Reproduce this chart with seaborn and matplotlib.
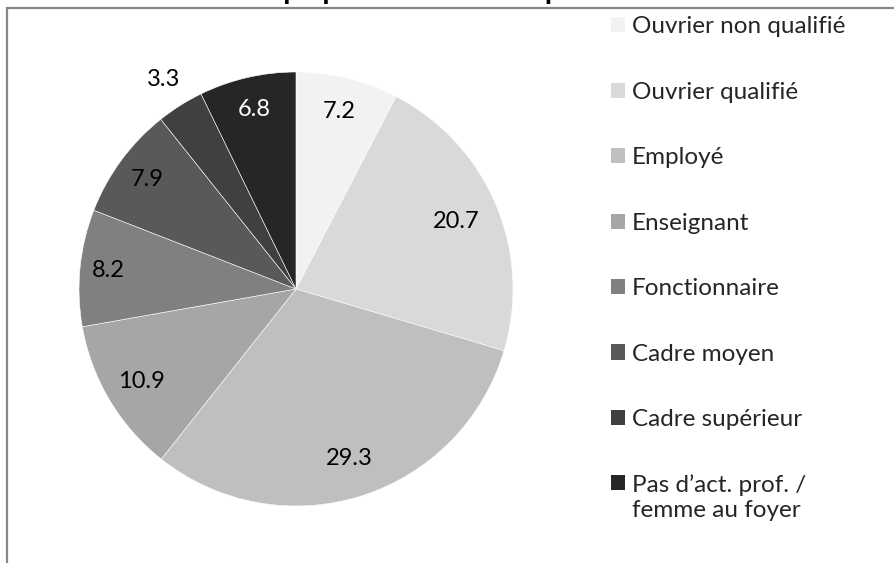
import matplotlib
matplotlib.use("Agg")
import matplotlib.pyplot as plt
from matplotlib.patches import Patch, Rectangle
import numpy as np
import seaborn as sns

sns.set_theme(style="white")
plt.rcParams["font.family"] = ["Lato", "DejaVu Sans"]

# données (en %)
categories = ["Ouvrier non qualifié", "Ouvrier qualifié", "Employé", "Enseignant",
              "Fonctionnaire", "Cadre moyen", "Cadre supérieur",
              "Pas d\u2019act. prof. /\nfemme au foyer"]
valeurs = [7.2, 20.7, 29.3, 10.9, 8.2, 7.9, 3.3, 6.8]
couleurs = ["#f2f2f2", "#d9d9d9", "#bfbfbf", "#a6a6a6",
            "#808080", "#595959", "#404040", "#262626"]
etiquettes = ["7.2", "20.7", "29.3", "10.9", "8.2", "7.9", "3.3", "6.8"]
titre = "Groupe professionnel du père"

W, H = 895, 563
fig = plt.figure(figsize=(W / 100, H / 100), dpi=100)

# cadre de la zone du graphique (coupé à droite et en bas)
fig.patches.append(Rectangle((7 / W, -0.05), 1.1, 1 - 8 / H + 0.05,
                             transform=fig.transFigure, fill=False,
                             edgecolor="#878787", linewidth=1.6))

# titre coupé en haut : seuls les jambages dépassent
fig.text(218 / W, 1 + 1 / H, titre, fontsize=21, fontweight="bold",
         ha="left", va="baseline", color="black")

cx, cy, r = 296, 289, 217
ax = fig.add_axes([(cx - r) / W, (H - cy - r) / H, 2 * r / W, 2 * r / H])
wedges, _ = ax.pie(valeurs, colors=couleurs, startangle=90, counterclock=False,
                   wedgeprops=dict(edgecolor="white", linewidth=0.4))
ax.set_xlim(-1, 1)
ax.set_ylim(-1, 1)
ax.set_aspect("equal")
ax.axis("off")

distances = [0.84, 0.80, 0.82, 0.83, 0.87, 0.85, 1.14, 0.85]
for w, lab, d, c in zip(wedges, etiquettes, distances, couleurs):
    ang = np.deg2rad((w.theta1 + w.theta2) / 2)
    col = "white" if c == "#262626" else "black"
    ax.text(d * np.cos(ang), d * np.sin(ang), lab, ha="center", va="center",
            fontsize=17, color=col)

handles = [Patch(facecolor=c, edgecolor="none") for c in couleurs]
leg = fig.legend(handles, categories, loc="upper left",
                 bbox_to_anchor=(601 / W, 1 - 6.5 / H), frameon=False,
                 fontsize=17.5, handlelength=0.58, handleheight=0.58,
                 handletextpad=0.3, labelspacing=1.83, borderaxespad=0)
# carré aligné sur la première ligne pour la dernière entrée
for col in leg._legend_handle_box.get_children():
    col.get_children()[-1].align = "top"

fig.savefig("out.png", dpi=100)
